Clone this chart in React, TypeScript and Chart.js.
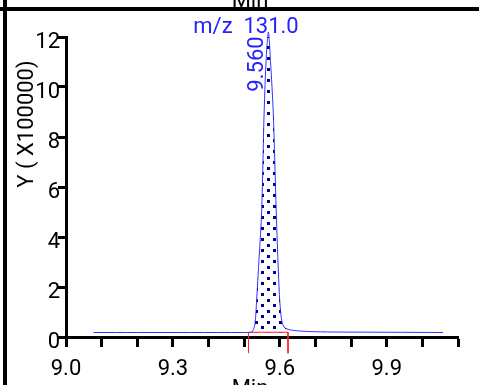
import React, { useEffect, useRef } from "react";
import { Chart, registerables } from "chart.js";

Chart.register(...registerables);

// Retention time (min) and intensity (x100000)
const timeMin = [9.077, 9.2, 9.35, 9.5, 9.515, 9.522, 9.53, 9.535, 9.542, 9.549, 9.556, 9.562, 9.568, 9.574, 9.5815, 9.59, 9.596, 9.6, 9.606, 9.612, 9.62, 9.64, 9.68, 9.75, 9.9, 10.058];
const intensity = [0.18, 0.18, 0.18, 0.18, 0.18, 0.2, 0.5, 1.5, 3.2, 5.0, 9.0, 11.2, 12.2, 11.0, 9.0, 5.0, 2.6, 1.4, 0.6, 0.4, 0.32, 0.26, 0.22, 0.2, 0.19, 0.18];

// Integration window
const intStart = 9.512;
const intEnd = 9.623;
const intBase = 0.19;
const markerBottom = -0.65;

// Axes
const xTickValues = [9.0, 9.1, 9.2, 9.3, 9.4, 9.5, 9.6, 9.7, 9.8, 9.9, 10.0, 10.1];
const xTickLabels = ["9.0", "", "", "9.3", "", "", "9.6", "", "", "9.9", "", ""];
const yTickValues = [0, 2, 4, 6, 8, 10, 12];
const yTickLabels = ["0", "2", "4", "6", "8", "10", "12"];

const peakLabel = "9.560";
const peakTime = 9.566;
const ionLabel = "m/z  131.0";
const yTitle = "Y ( X100000)";
const xTitle = "Min";

const FONT = "Roboto";
const BLUE = "#2222ff";

function makePattern(): CanvasPattern | string {
  const c = document.createElement("canvas");
  c.width = 12;
  c.height = 11;
  const g = c.getContext("2d");
  if (!g) return "rgba(0,0,139,0.3)";
  g.fillStyle = "#00008b";
  g.fillRect(3, 2, 3, 3);
  g.fillRect(9, 7, 3, 3);
  const p = g.createPattern(c, "repeat");
  return p || "rgba(0,0,139,0.3)";
}

export default function App() {
  const ref = useRef<HTMLCanvasElement | null>(null);

  useEffect(() => {
    const canvas = ref.current;
    if (!canvas) return;

    const signal = timeMin.map((t, i) => ({ x: t, y: intensity[i] }));
    const fillPts = [{ x: intStart, y: intBase }]
      .concat(signal.filter((p) => p.x > intStart && p.x < intEnd))
      .concat([{ x: intEnd, y: intBase }]);
    const marker = [
      { x: intStart, y: markerBottom },
      { x: intStart, y: intBase },
      { x: intEnd, y: intBase },
      { x: intEnd, y: markerBottom },
    ];

    const annot = {
      id: "annot",
      afterDraw(chart: any) {
        const ctx = chart.ctx;
        const xs = chart.scales.x;
        ctx.save();
        ctx.fillStyle = "#000";
        ctx.font = `22px ${FONT}`;
        ctx.textAlign = "center";
        ctx.textBaseline = "alphabetic";
        ctx.fillText(xTitle, 250, 7);
        ctx.fillText(xTitle, 250, 395);
        ctx.fillRect(0, 7, 479, 4);
        ctx.fillRect(3, 0, 4, 385);
        ctx.fillStyle = BLUE;
        ctx.fillText(ionLabel, 246, 33);
        ctx.save();
        ctx.translate(xs.getPixelForValue(peakTime) - 5, 64);
        ctx.rotate(-Math.PI / 2);
        ctx.textAlign = "center";
        ctx.fillText(peakLabel, 0, 0);
        ctx.restore();
        ctx.save();
        ctx.fillStyle = "#000";
        ctx.translate(33, 124);
        ctx.rotate(-Math.PI / 2);
        ctx.textAlign = "center";
        ctx.fillText(yTitle, 0, 0);
        ctx.restore();
        ctx.restore();
      },
    };

    const chart = new Chart(canvas, {
      type: "line",
      data: {
        datasets: [
          {
            data: fillPts,
            borderWidth: 0,
            pointRadius: 0,
            backgroundColor: makePattern() as any,
            fill: { value: intBase } as any,
            tension: 0.3,
          },
          {
            data: signal,
            borderColor: "#3333ff",
            borderWidth: 1,
            pointRadius: 0,
            fill: false,
            tension: 0.3,
          },
          {
            data: marker,
            borderColor: "#ff2222",
            borderWidth: 1,
            pointRadius: 0,
            fill: false,
            tension: 0,
          },
        ],
      },
      options: {
        responsive: false,
        animation: false,
        devicePixelRatio: 1,
        clip: false as any,
        layout: { padding: { top: 37, right: 21, left: 0, bottom: 0 } },
        plugins: { legend: { display: false }, tooltip: { enabled: false } },
        scales: {
          x: {
            type: "linear",
            min: 9.0,
            max: 10.1,
            afterBuildTicks: (axis: any) => {
              axis.ticks = xTickValues.map((v) => ({ value: v }));
            },
            afterFit: (axis: any) => {
              axis.height = 48;
            },
            ticks: {
              autoSkip: false,
              maxRotation: 0,
              color: "#000",
              font: { family: FONT, size: 22 },
              padding: 9,
              callback: (_v: any, i: number) => xTickLabels[i],
            },
            grid: {
              drawOnChartArea: false,
              drawTicks: true,
              tickLength: 10,
              tickWidth: 3,
              tickColor: "#000",
            },
            border: { display: true, color: "#000", width: 3 },
          },
          y: {
            type: "linear",
            min: 0,
            max: 12,
            afterBuildTicks: (axis: any) => {
              axis.ticks = yTickValues.map((v) => ({ value: v }));
            },
            afterFit: (axis: any) => {
              axis.width = 66;
            },
            ticks: {
              autoSkip: false,
              color: "#000",
              font: { family: FONT, size: 22 },
              padding: -2,
              labelOffset: 5,
              callback: (_v: any, i: number) => yTickLabels[i],
            },
            grid: {
              drawOnChartArea: false,
              drawTicks: true,
              tickLength: 8,
              tickWidth: 3,
              tickColor: "#000",
            },
            border: { display: true, color: "#000", width: 3 },
          },
        },
      },
      plugins: [annot],
    });

    return () => chart.destroy();
  }, []);

  return (
    <div style={{ position: "absolute", left: 0, top: 0, width: 479, height: 385, background: "#fff" }}>
      <canvas ref={ref} width={479} height={385} />
    </div>
  );
}
